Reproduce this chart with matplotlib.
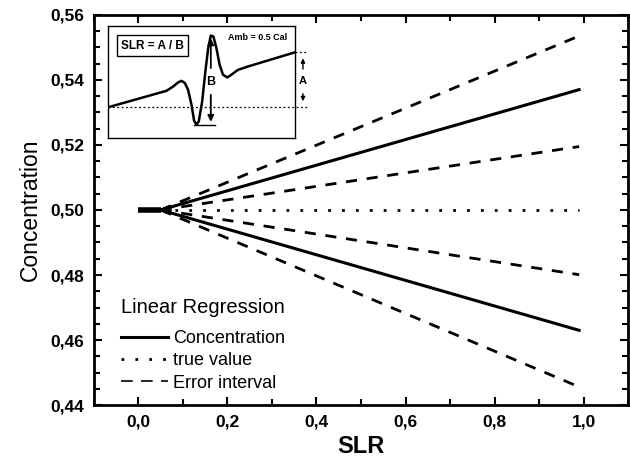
import numpy as np
import matplotlib.pyplot as plt
from matplotlib.ticker import FuncFormatter, MultipleLocator

plt.rcParams['font.family'] = ['Liberation Sans', 'DejaVu Sans']

# regression lines: start of the fan and end value at SLR ~ 1
slr = [0.05, 0.99]
conc = [0.500, 0.537]
conc_low = [0.500, 0.463]
err_up_out = [0.500, 0.5535]
err_up_in = [0.500, 0.5195]
err_low_in = [0.500, 0.4801]
err_low_out = [0.500, 0.4456]
true_val = [0.500, 0.500]
start_slr = [0.0, 0.05]
start_conc = [0.500, 0.500]

# inset signal (arbitrary units)
sig_x = [0, 3.13, 3.49, 3.75, 3.93, 4.11, 4.28, 4.46, 4.60, 4.73, 4.85, 5.03, 5.20, 5.35,
         5.49, 5.63, 5.79, 5.96, 6.14, 6.37, 6.58, 6.94, 7.47, 10]
sig_y = [2.73, 4.21, 4.60, 4.96, 5.10, 4.90, 4.30, 2.97, 1.54, 1.19, 1.48, 3.26, 5.93, 8.01,
         9.14, 9.05, 8.01, 6.53, 5.64, 5.40, 5.64, 6.08, 6.38, 7.66]
base_y = 2.73
peak_x, peak_y, min_y = 5.49, 9.14, 1.19

fig = plt.figure(figsize=(6.3, 4.63), dpi=100)
ax = fig.add_axes([0.149, 0.125, 0.848, 0.843])

ax.plot(start_slr, start_conc, color='black', lw=4, solid_capstyle='butt')
ax.plot(slr, conc, color='black', lw=2.2, label='Concentration')
ax.plot(slr, conc_low, color='black', lw=2.2)
ax.plot(slr, true_val, color='black', lw=2, linestyle=(0, (1, 4)), label='true value')
for e in [err_up_out, err_up_in, err_low_in, err_low_out]:
    ax.plot(slr, e, color='black', lw=2, dashes=(4, 3.5))
ax.plot([], [], color='black', lw=1.2, dashes=(7, 5), label='Error interval')

ax.set_xlim(-0.1, 1.1)
ax.set_ylim(0.44, 0.56)
ax.xaxis.set_major_locator(MultipleLocator(0.2))
ax.xaxis.set_minor_locator(MultipleLocator(0.1))
ax.yaxis.set_major_locator(MultipleLocator(0.02))
ax.yaxis.set_minor_locator(MultipleLocator(0.005))
ax.xaxis.set_major_formatter(FuncFormatter(lambda v, p: f'{v:.1f}'.replace('.', ',')))
ax.yaxis.set_major_formatter(FuncFormatter(lambda v, p: f'{v:.2f}'.replace('.', ',')))
ax.tick_params(which='both', direction='in', top=True, right=True, width=1.5)
ax.tick_params(which='major', length=6, labelsize=12.5, pad=7)
ax.tick_params(which='minor', length=4)
for t in ax.get_xticklabels() + ax.get_yticklabels():
    t.set_fontweight('bold')
for s in ax.spines.values():
    s.set_linewidth(2)

ax.set_xlabel('SLR', fontsize=17, fontweight='bold', labelpad=4)
ax.set_ylabel('Concentration', fontsize=16.5, labelpad=6)

leg = ax.legend(loc='upper left', bbox_to_anchor=(0.02, 0.315), frameon=False,
                title='Linear Regression', fontsize=13, title_fontsize=14.5,
                handlelength=2.6, handletextpad=0.3, labelspacing=0.3)
leg._legend_box.align = 'left'
leg._legend_box.sep = 9

# inset with the signal definition
ins = fig.add_axes([0.171, 0.702, 0.298, 0.242])
ins.set_xlim(0, 10)
ins.set_ylim(0, 10)
ins.set_xticks([])
ins.set_yticks([])
for s in ins.spines.values():
    s.set_linewidth(1)
ins.plot(sig_x, sig_y, color='black', lw=1.8)
ins.plot([0, 10.65], [base_y, base_y], color='black', lw=0.9, linestyle=(0, (1.5, 2)), clip_on=False)
ins.plot([10, 10.65], [sig_y[-1], sig_y[-1]], color='black', lw=0.9, linestyle=(0, (1.5, 2)), clip_on=False)
ins.plot([4.6, 5.7], [min_y, min_y], color='black', lw=1)
ins.annotate('', xy=(peak_x, peak_y), xytext=(peak_x, 6.0),
             arrowprops=dict(arrowstyle='-|>', color='black', lw=1.3, mutation_scale=9))
ins.annotate('', xy=(peak_x, min_y), xytext=(peak_x, 4.1),
             arrowprops=dict(arrowstyle='-|>', color='black', lw=1.3, mutation_scale=9))
ins.text(peak_x, 5.0, 'B', ha='center', va='center', fontsize=9, fontweight='bold')
ins.annotate('', xy=(10.4, sig_y[-1] - 0.3), xytext=(10.4, 5.9),
             arrowprops=dict(arrowstyle='-|>', color='black', lw=1, mutation_scale=6), annotation_clip=False)
ins.annotate('', xy=(10.4, base_y + 0.3), xytext=(10.4, 4.2),
             arrowprops=dict(arrowstyle='-|>', color='black', lw=1, mutation_scale=6), annotation_clip=False)
ins.text(10.4, 5.1, 'A', ha='center', va='center', fontsize=8, fontweight='bold', clip_on=False)
ins.text(2.37, 8.25, 'SLR = A / B', ha='center', va='center', fontsize=8.5, fontweight='bold',
         bbox=dict(boxstyle='square,pad=0.35', fc='white', ec='black', lw=1))
ins.text(8.0, 8.96, 'Amb = 0.5 Cal', ha='center', va='center', fontsize=6.5, fontweight='bold')

fig.savefig('out.png', dpi=100)
